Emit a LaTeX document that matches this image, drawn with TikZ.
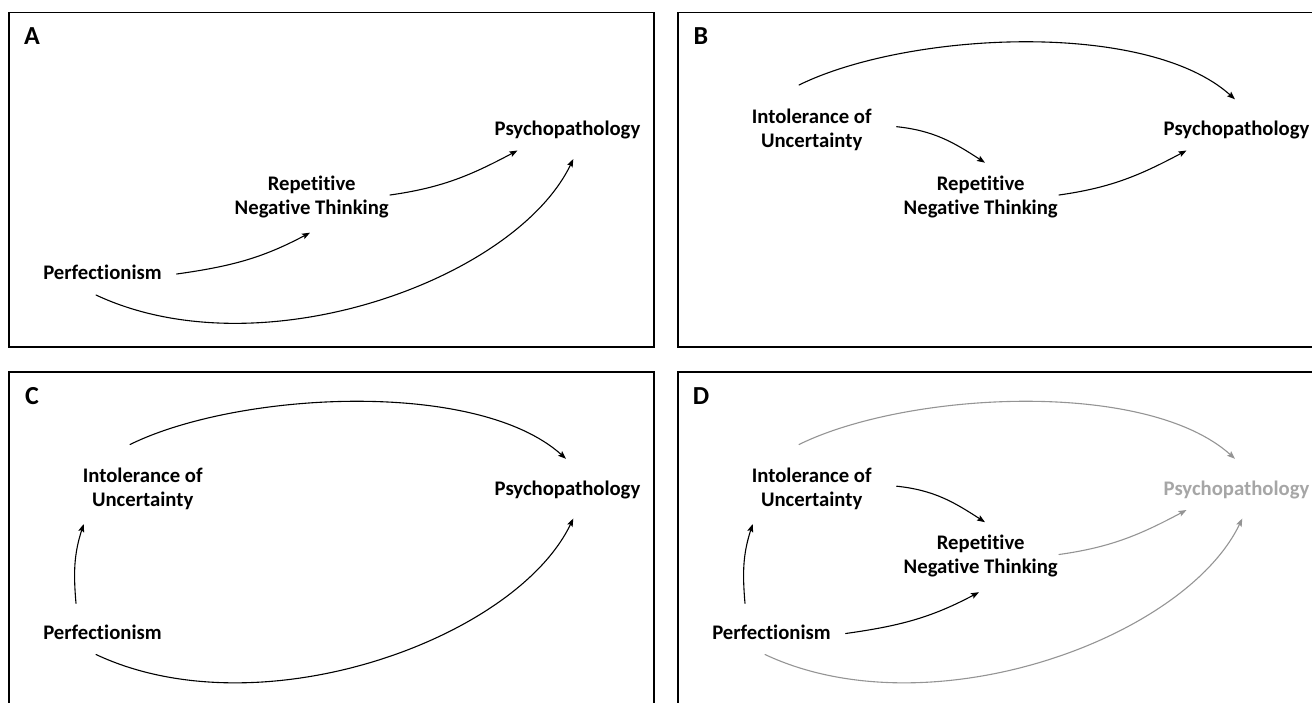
\documentclass[tikz,border=0pt]{standalone}
\usepackage{fontspec}
\setmainfont{Carlito}[Ligatures=NoCommon]
\usetikzlibrary{arrows.meta}

\begin{document}
\begin{tikzpicture}[x=1pt,y=1pt,>={Stealth[length=8pt,width=6pt,inset=1.5pt]},line cap=round,
  box/.style={draw=black,line width=1.3pt},
  tag/.style={inner sep=0pt,font=\fontsize{26}{26}\selectfont\bfseries},
  var/.style={align=center,inner sep=0pt,font=\fontsize{20.7}{24}\selectfont\bfseries},
  arr/.style={->,line width=1.1pt},
  faded/.style={draw=black!42}]
\useasboundingbox (0,0) rectangle (1312,-702);
\clip (0,0) rectangle (1312,-702);

\begin{scope}
\draw[box] (9,-12.5) rectangle +(645,-334.5);
\node[tag] (tagA) at (32,-36.5) {A};
\node[var] (perfA) at (102.5,-272.7) {Perfectionism};
\node[var] (rntA) at (311.7,-196.5) {Repetitive\\Negative Thinking};
\node[var] (psyA) at (567.5,-130) {Psychopathology};
\draw[arr] ([shift={(74.2,-1.3)}]perfA.center) to[out=8,in=208] ([shift={(-1.7,-36.2)}]rntA.center);
\draw[arr] ([shift={(78.3,1.5)}]rntA.center) to[out=8,in=208] ([shift={(-50,-20.5)}]psyA.center);
\draw[arr] ([shift={(-6.5,-22.3)}]perfA.center) .. controls +(164,-77) and +(-58,-121) .. ([shift={(5.8,-29)}]psyA.center);
\end{scope}

\begin{scope}[shift={(669,0)}]
\draw[box] (9,-12.5) rectangle +(645,-334.5);
\node[tag] (tagB) at (32,-36.5) {B};
\node[var] (iuB) at (142.7,-129.5) {Intolerance of\\Uncertainty};
\node[var] (rntB) at (311.7,-196.5) {Repetitive\\Negative Thinking};
\node[var] (psyB) at (567.5,-130) {Psychopathology};
\draw[arr] ([shift={(85,2.8)}]iuB.center) to[out=-6,in=147] ([shift={(4.3,33.8)}]rntB.center);
\draw[arr] ([shift={(78.3,1.5)}]rntB.center) to[out=8,in=208] ([shift={(-50,-20.5)}]psyB.center);
\draw[arr] ([shift={(-12.7,44.5)}]iuB.center) .. controls +(108,53) and +(-89,80) .. ([shift={(-1.5,30.7)}]psyB.center);
\end{scope}

\begin{scope}[shift={(0,-359.5)}]
\draw[box] (9,-12.5) rectangle +(645,-334.5);
\node[tag] (tagC) at (32,-36.5) {C};
\node[var] (perfC) at (102.5,-272.7) {Perfectionism};
\node[var] (iuC) at (142.7,-129.5) {Intolerance of\\Uncertainty};
\node[var] (psyC) at (567.5,-130) {Psychopathology};
\draw[arr] ([shift={(-26.5,28.9)}]perfC.center) to[out=95,in=252] ([shift={(-59,-35)}]iuC.center);
\draw[arr] ([shift={(-12.7,44.5)}]iuC.center) .. controls +(108,53) and +(-89,80) .. ([shift={(-1.5,30.7)}]psyC.center);
\draw[arr] ([shift={(-6.5,-22.3)}]perfC.center) .. controls +(164,-77) and +(-58,-121) .. ([shift={(5.8,-29)}]psyC.center);
\end{scope}

\begin{scope}[shift={(669,-359.5)}]
\draw[box] (9,-12.5) rectangle +(645,-334.5);
\node[tag] (tagD) at (32,-36.5) {D};
\node[var] (perfD) at (102.5,-272.7) {Perfectionism};
\node[var] (iuD) at (142.7,-129.5) {Intolerance of\\Uncertainty};
\node[var] (rntD) at (311.7,-196.5) {Repetitive\\Negative Thinking};
\node[var,text=black!35] (psyD) at (567.5,-130) {Psychopathology};
\draw[arr] ([shift={(-26.5,28.9)}]perfD.center) to[out=95,in=252] ([shift={(-59,-35)}]iuD.center);
\draw[arr] ([shift={(74.2,-1.3)}]perfD.center) to[out=8,in=208] ([shift={(-1.7,-36.2)}]rntD.center);
\draw[arr] ([shift={(85,2.8)}]iuD.center) to[out=-6,in=147] ([shift={(4.3,33.8)}]rntD.center);
\draw[arr,faded] ([shift={(78.3,1.5)}]rntD.center) to[out=8,in=208] ([shift={(-50,-20.5)}]psyD.center);
\draw[arr,faded] ([shift={(-12.7,44.5)}]iuD.center) .. controls +(108,53) and +(-89,80) .. ([shift={(-1.5,30.7)}]psyD.center);
\draw[arr,faded] ([shift={(-6.5,-22.3)}]perfD.center) .. controls +(164,-77) and +(-58,-121) .. ([shift={(5.8,-29)}]psyD.center);
\end{scope}
\end{tikzpicture}
\end{document}
